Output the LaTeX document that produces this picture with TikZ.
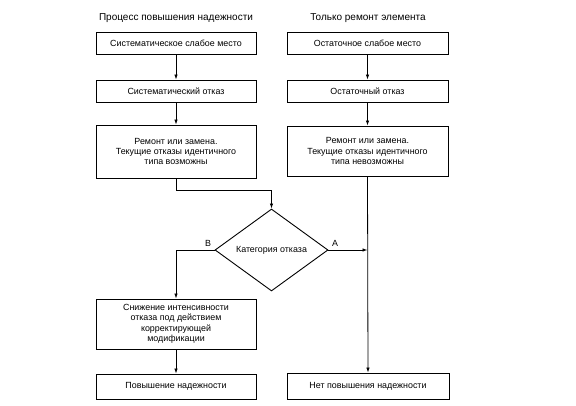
\documentclass[tikz,border=0pt]{standalone}
\usepackage{fontspec}
\setmainfont{Liberation Sans}
\usetikzlibrary{shapes.geometric,arrows.meta}
\begin{document}
\begin{tikzpicture}[x=1pt,y=-1pt,
  box/.style={draw,line width=0.9pt,align=center,font=\fontsize{8.9}{10.4}\selectfont,inner sep=0pt},
  ttl/.style={font=\fontsize{10}{11}\selectfont},
  lbl/.style={font=\fontsize{8.9}{10}\selectfont},
  arr/.style={line width=0.8pt,-{Latex[length=5pt,width=3.5pt]}},
  ln/.style={line width=0.8pt}]
\useasboundingbox (0,0) rectangle (576,406);
\node[ttl] (t1) at (176,18) {Процесс повышения надежности};
\node[ttl] (t2) at (368,18) {Только ремонт элемента};
\node[box,minimum width=160pt,minimum height=22pt] (l1) at (176,43) {Систематическое слабое место};
\node[box,minimum width=160pt,minimum height=22pt] (l2) at (176,91) {Систематический отказ};
\node[box,minimum width=160pt,minimum height=53pt] (l3) at (176,151.5) {Ремонт или замена.\\Текущие отказы идентичного\\типа возможны};
\node[box,minimum width=161pt,minimum height=22pt] (r1) at (367.5,43) {Остаточное слабое место};
\node[box,minimum width=161pt,minimum height=22pt] (r2) at (367.5,91) {Остаточный отказ};
\node[box,minimum width=161pt,minimum height=50pt] (r3) at (367.5,151) {Ремонт или замена.\\Текущие отказы идентичного\\типа невозможны};
\node[draw,diamond,line width=0.9pt,minimum width=113pt,minimum height=82pt,inner sep=0pt,font=\fontsize{8.9}{10}\selectfont] (d) at (271.5,250) {Категория отказа};
\node[box,minimum width=160pt,minimum height=50pt] (l4) at (176,324) {Снижение интенсивности\\отказа под действием\\корректирующей\\модификации};
\node[box,minimum width=160pt,minimum height=25pt] (l5) at (176,386.5) {Повышение надежности};
\node[box,minimum width=162pt,minimum height=26pt] (r5) at (368,386) {Нет повышения надежности};
\node[lbl] (lb) at (208,243) {B};
\node[lbl] (la) at (335,243) {A};
\coordinate (j) at (367.5,250);
\draw[arr] (l1) -- (l2);
\draw[arr] (l2) -- (l3);
\draw[arr] (r1) -- (r2);
\draw[arr] (r2) -- (r3);
\draw[arr] (l3.south) -- ++(0,12) -| (d.north);
\draw[arr] (d.west) -| (l4.north);
\draw[arr] (l4) -- (l5);
\draw[arr] (r3.south) -- (r5.north);
\draw[arr] (d.east) -- (j);
\end{tikzpicture}
\end{document}
